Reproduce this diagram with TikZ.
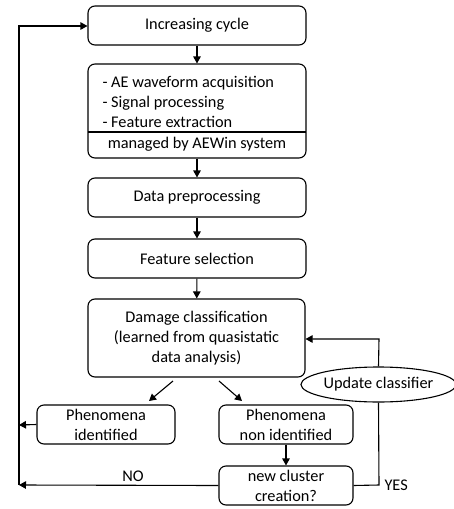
\documentclass[tikz,border=0pt]{standalone}
\usepackage{fontspec}
\setmainfont{Carlito}
\usetikzlibrary{arrows.meta,shapes.geometric}
\begin{document}
\begin{tikzpicture}[x=1pt,y=-1pt,
  font=\fontsize{16.3}{20}\selectfont,
  line width=1.1pt,
  box/.style={draw,rounded corners=7pt,inner sep=0pt,align=center},
  arr/.style={-{Triangle[length=7pt,width=7.5pt]}},
  lbl/.style={inner sep=0pt}]
\useasboundingbox (0,0) rectangle (454,509);
\node[box,minimum width=218pt,minimum height=39pt] (b1) at (197,25.5) {Increasing cycle};
\node[box,minimum width=218pt,minimum height=94pt] (b2) at (197,111) {};
\node[lbl,anchor=base west,align=left] (b2t) at (102,127) {- AE waveform acquisition\\- Signal processing\\- Feature extraction};
\coordinate (dl) at (88,132);
\coordinate (dr) at (306,132);
\draw (dl) -- (dr);
\node[lbl,anchor=base] (b2m) at (197,148) {managed by AEWin system};
\node[box,minimum width=218pt,minimum height=39pt] (b3) at (197,197.5) {Data preprocessing};
\node[box,minimum width=218pt,minimum height=39pt] (b4) at (197,258.5) {Feature selection};
\node[box,minimum width=217pt,minimum height=78pt] (b5) at (196.5,338) {Damage classification\\(learned from quasistatic\\data analysis)};
\node[box,minimum width=138pt,minimum height=39pt] (pi) at (106,424.5) {Phenomena\\identified};
\node[box,minimum width=134pt,minimum height=39pt] (pn) at (286,424.5) {Phenomena\\non identified};
\node[box,minimum width=134pt,minimum height=39pt] (nc) at (286,485.5) {new cluster\\creation?};
\node[draw,ellipse,minimum width=147pt,minimum height=35pt,inner sep=0pt] (uc) at (378.5,384.5) {Update classifier};
\draw[arr] (b1) -- (b2);
\draw[arr] (b2) -- (b3);
\draw[arr] (b3) -- (b4);
\draw[arr] (b4) -- (b5);
\coordinate (d1s) at (173,381);
\coordinate (d1e) at (149,401);
\coordinate (d2s) at (219,381);
\coordinate (d2e) at (242,401);
\draw[arr] (d1s) -- (d1e);
\draw[arr] (d2s) -- (d2e);
\draw[arr] (pn) -- (nc);
\coordinate (lb) at (19,485);
\coordinate (lm) at (19,425);
\coordinate (lt) at (19,26);
\draw[arr] (nc.west) -- (lb);
\draw[arr] (pi.west) -- (lm);
\draw[arr] (lb) -- (lt) -- (b1.west |- lt);
\node[lbl] (no) at (133,476) {NO};
\coordinate (yr) at (379,485);
\draw (nc.east) -- (yr) -- (uc.south);
\node[lbl,anchor=west] (yes) at (384,485) {YES};
\coordinate (ut) at (379,339);
\draw[arr] (uc.north) -- (ut) -- (b5.east |- ut);
\end{tikzpicture}
\end{document}
